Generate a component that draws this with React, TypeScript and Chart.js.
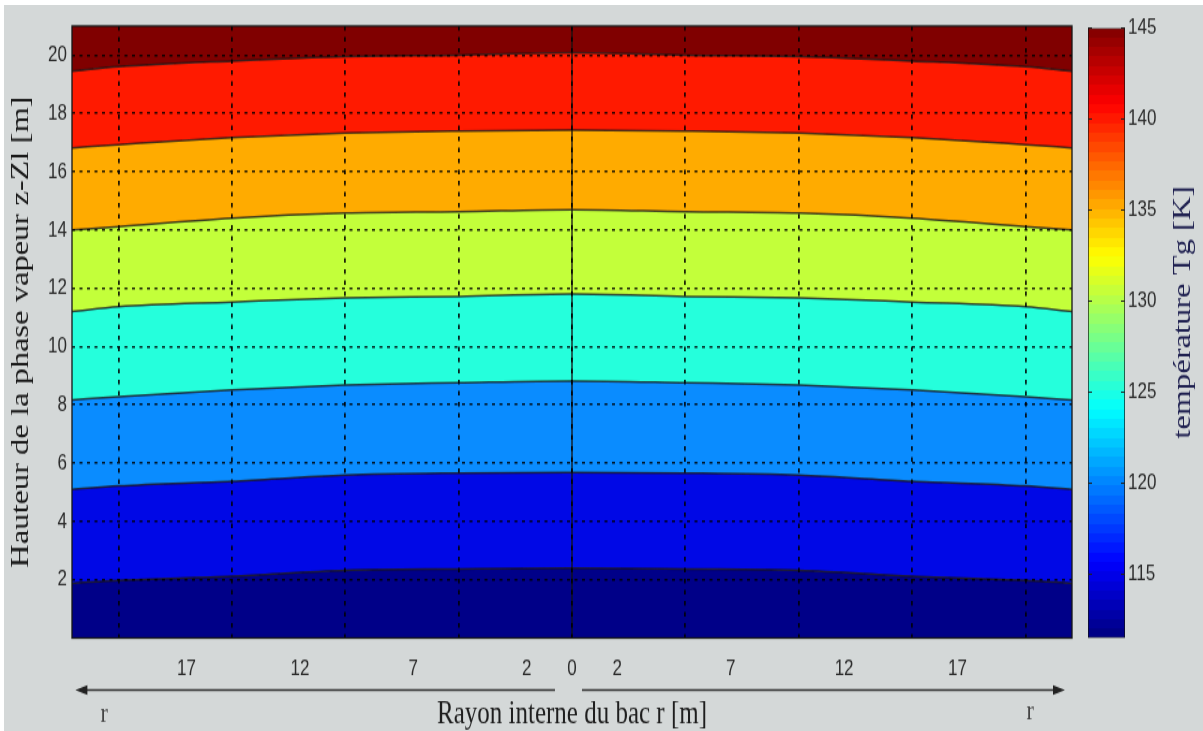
import React, { useEffect, useRef } from "react";
import { Chart, registerables } from "chart.js";

Chart.register(...registerables);

// Sampling radii (m) of the isotherm heights, from the tank axis out to the wall
const RADIUS = [0, 5, 10, 15, 20, 22.05];

// Heights z-Zl (m) of the seven isotherms separating the eight temperature bands,
// coldest boundary first, one value per radius above (the map is symmetric about r = 0)
const ISOTHERM_1 = [2.4, 2.37, 2.32, 2.12, 1.98, 1.88];
const ISOTHERM_2 = [5.68, 5.66, 5.59, 5.38, 5.22, 5.1];
const ISOTHERM_3 = [8.82, 8.76, 8.68, 8.51, 8.28, 8.17];
const ISOTHERM_4 = [11.8, 11.72, 11.67, 11.53, 11.37, 11.2];
const ISOTHERM_5 = [14.7, 14.63, 14.58, 14.41, 14.12, 14.0];
const ISOTHERM_6 = [17.43, 17.4, 17.33, 17.17, 16.93, 16.82];
const ISOTHERM_7 = [20.08, 20.0, 19.95, 19.8, 19.6, 19.45];
const ISOTHERMS = [ISOTHERM_1, ISOTHERM_2, ISOTHERM_3, ISOTHERM_4, ISOTHERM_5, ISOTHERM_6, ISOTHERM_7];

// Extent of the map: tank radius (m) and height of the vapour phase (m)
const RADIUS_MAX = 22.05;
const HEIGHT_MAX = 21;

// Fill of each temperature band, coldest (bottom) to warmest (top)
const BAND_COLORS = ["#000088", "#0008e6", "#0a8cff", "#25ffdc", "#c3ff3a", "#ffab00", "#ff1a00", "#800000"];

// Axis ticks
const HEIGHT_TICKS = [2, 4, 6, 8, 10, 12, 14, 16, 18, 20];
const RADIUS_GRID = [-20, -15, -10, -5, 0, 5, 10, 15, 20];
const RADIUS_LABELS = [-17, -12, -7, -2, 0, 2, 7, 12, 17];

// Colour scale of the gas temperature Tg (K)
const TEMP_MIN = 111.5;
const TEMP_MAX = 145;
const TEMP_TICKS = [115, 120, 125, 130, 135, 140, 145];

// The figure is rendered at a reduced height and shown vertically stretched
const FIG_WIDTH = 1203;
const DRAW_HEIGHT = 562;
const SHOWN_HEIGHT = 731;

const SANS = "'Liberation Sans', Arial, sans-serif";
const SERIF = "'Liberation Serif', 'Times New Roman', serif";

Chart.defaults.font.family = SANS;

function mirrored(heights: number[]) {
  const pts: { x: number; y: number }[] = [];
  for (let i = RADIUS.length - 1; i > 0; i--) pts.push({ x: -RADIUS[i], y: heights[i] });
  for (let i = 0; i < RADIUS.length; i++) pts.push({ x: RADIUS[i], y: heights[i] });
  return pts;
}

// MATLAB-style jet colour map, t in [0, 1]
function jet(t: number) {
  const c = (v: number) => Math.round(255 * Math.min(1, Math.max(0, v)));
  return `rgb(${c(1.5 - Math.abs(4 * t - 3))},${c(1.5 - Math.abs(4 * t - 2))},${c(1.5 - Math.abs(4 * t - 1))})`;
}

const frameAndArrows = {
  id: "frameAndArrows",
  afterDraw(chart: any) {
    const { ctx, chartArea: a, scales } = chart;
    const xs = scales.x;
    ctx.save();
    ctx.strokeStyle = "#151515";
    ctx.lineWidth = 1.3;
    ctx.strokeRect(a.left, a.top, a.right - a.left, a.bottom - a.top);

    // radius direction arrows under the axis
    const y = a.bottom + 40;
    const arrow = (from: number, to: number) => {
      const x0 = xs.getPixelForValue(from);
      const x1 = xs.getPixelForValue(to);
      const dir = Math.sign(x1 - x0);
      ctx.strokeStyle = "#333";
      ctx.fillStyle = "#222";
      ctx.lineWidth = 1.6;
      ctx.beginPath();
      ctx.moveTo(x0, y);
      ctx.lineTo(x1 - dir * 8, y);
      ctx.stroke();
      ctx.beginPath();
      ctx.moveTo(x1, y);
      ctx.lineTo(x1 - dir * 12, y - 3.8);
      ctx.lineTo(x1 - dir * 12, y + 3.8);
      ctx.closePath();
      ctx.fill();
    };
    arrow(-0.75, -21.9);
    arrow(0.44, 21.74);

    ctx.fillStyle = "#444";
    ctx.font = `22px ${SERIF}`;
    ctx.textAlign = "center";
    ctx.textBaseline = "middle";
    ctx.fillText("r", xs.getPixelForValue(-20.63), a.bottom + 58.5);
    ctx.fillText("r", xs.getPixelForValue(20.2), a.bottom + 57);
    ctx.restore();
  },
};

const colorbarTitle = {
  id: "colorbarTitle",
  afterDraw(chart: any) {
    const { ctx } = chart;
    ctx.save();
    ctx.translate(123, 240);
    ctx.rotate(-Math.PI / 2);
    ctx.fillStyle = "#1f2050";
    ctx.font = `25px ${SERIF}`;
    ctx.textAlign = "center";
    ctx.textBaseline = "middle";
    ctx.fillText("température Tg [K]", 0, 0);
    ctx.restore();
  },
};

export default function App() {
  const mainRef = useRef<HTMLCanvasElement>(null);
  const barRef = useRef<HTMLCanvasElement>(null);

  useEffect(() => {
    if (!mainRef.current || !barRef.current) return;

    const tickFont = { family: SANS, size: 17 };
    const tickColor = "#2c2c2c";
    const gridColor = "rgba(0,0,0,0.85)";

    const bandDatasets: any[] = ISOTHERMS.map((h, i) => ({
      label: `isotherme ${i + 1}`,
      data: mirrored(h),
      backgroundColor: BAND_COLORS[i],
      borderColor: "rgba(25,20,20,0.8)",
      borderWidth: 1.5,
      fill: i === 0 ? "origin" : "-1",
      pointRadius: 0,
      cubicInterpolationMode: "monotone",
    }));
    bandDatasets.push({
      label: "sommet",
      data: mirrored(RADIUS.map(() => HEIGHT_MAX)),
      backgroundColor: BAND_COLORS[7],
      borderColor: "transparent",
      borderWidth: 0,
      fill: "-1",
      pointRadius: 0,
    });
    bandDatasets.push({
      label: "axe",
      data: [
        { x: 0, y: 0 },
        { x: 0, y: HEIGHT_MAX },
      ],
      borderColor: "#111",
      borderWidth: 1.3,
      fill: false,
      pointRadius: 0,
      tension: 0,
    });

    const main = new Chart(mainRef.current, {
      type: "line",
      data: { datasets: bandDatasets },
      plugins: [frameAndArrows],
      options: {
        responsive: false,
        animation: false,
        devicePixelRatio: 1,
        layout: { padding: { left: 0, right: 131, top: 20, bottom: 0 } },
        plugins: {
          legend: { display: false },
          tooltip: { enabled: false },
          filler: { drawTime: "beforeDatasetsDraw" },
        } as any,
        scales: {
          x: {
            type: "linear",
            position: "bottom",
            min: -RADIUS_MAX,
            max: RADIUS_MAX,
            afterBuildTicks: (s: any) => {
              s.ticks = RADIUS_LABELS.map((v) => ({ value: v }));
            },
            afterFit: (s: any) => {
              s.height = 71.5;
            },
            ticks: {
              font: tickFont,
              color: tickColor,
              padding: 6,
              maxRotation: 0,
              autoSkip: false,
              callback: (v: any) => String(Math.abs(Number(v))),
            },
            grid: { display: false },
            border: { display: false },
            title: {
              display: true,
              text: "Rayon interne du bac r [m]",
              color: "#1e1e1e",
              font: { family: SERIF, size: 25, lineHeight: 1 },
              padding: { top: 0, bottom: 0 },
            },
          },
          xg: {
            type: "linear",
            position: "top",
            min: -RADIUS_MAX,
            max: RADIUS_MAX,
            afterBuildTicks: (s: any) => {
              s.ticks = RADIUS_GRID.map((v) => ({ value: v }));
            },
            afterFit: (s: any) => {
              s.height = 0;
            },
            ticks: { display: false },
            grid: { color: gridColor, lineWidth: 1.8, drawTicks: false, z: 1 } as any,
            border: { display: false, dash: [3.5, 5] },
          },
          y: {
            type: "linear",
            position: "left",
            min: 0,
            max: HEIGHT_MAX,
            afterBuildTicks: (s: any) => {
              s.ticks = HEIGHT_TICKS.map((v) => ({ value: v }));
            },
            afterFit: (s: any) => {
              s.width = 72;
            },
            ticks: { font: tickFont, color: tickColor, padding: 5 },
            grid: { color: gridColor, lineWidth: 1.6, drawTicks: false, z: 1 } as any,
            border: { display: false, dash: [3, 4.5] },
            title: {
              display: true,
              text: "Hauteur de la phase vapeur z-Zl [m]",
              color: "#1a1a1a",
              font: { family: SERIF, size: 25, lineHeight: 1.2 },
              padding: { top: 6, bottom: 0 },
            },
          },
        } as any,
      },
    });

    const colorbar = new Chart(barRef.current, {
      type: "bar",
      data: {
        labels: ["Tg"],
        datasets: [
          {
            label: "Tg",
            data: [[TEMP_MIN, TEMP_MAX]] as any,
            backgroundColor: (c: any) => {
              const chart = c.chart;
              const ys = chart.scales.y;
              if (!chart.chartArea || !ys) return "#000";
              const g = chart.ctx.createLinearGradient(0, ys.getPixelForValue(TEMP_MIN), 0, ys.getPixelForValue(TEMP_MAX));
              const steps = 64;
              for (let i = 0; i < steps; i++) {
                const col = jet((i + 0.5) / steps);
                g.addColorStop(i / steps, col);
                g.addColorStop((i + 1) / steps, col);
              }
              return g;
            },
            borderColor: "#111",
            borderWidth: 1,
            borderSkipped: false,
            barPercentage: 1,
            categoryPercentage: 1,
          },
        ],
      },
      plugins: [colorbarTitle],
      options: {
        responsive: false,
        animation: false,
        devicePixelRatio: 1,
        layout: { padding: { left: 28, right: 0, top: 21.5, bottom: 71.5 } },
        plugins: { legend: { display: false }, tooltip: { enabled: false } },
        scales: {
          x: { display: false },
          y: {
            type: "linear",
            position: "right",
            min: TEMP_MIN,
            max: TEMP_MAX,
            afterBuildTicks: (s: any) => {
              s.ticks = TEMP_TICKS.map((v) => ({ value: v }));
            },
            afterFit: (s: any) => {
              s.width = 78;
            },
            ticks: { font: { family: SANS, size: 17 }, color: tickColor, padding: 3 },
            grid: { color: "#222", lineWidth: 1, drawTicks: false, z: 1 } as any,
            border: { display: false, dash: [4, 29] },
          },
        } as any,
      },
    });

    return () => {
      main.destroy();
      colorbar.destroy();
    };
  }, []);

  return (
    <div
      style={{
        position: "fixed",
        left: 0,
        top: 0,
        width: FIG_WIDTH,
        height: SHOWN_HEIGHT,
        background: "#ffffff",
        overflow: "hidden",
      }}
    >
      <div style={{ position: "absolute", left: 4, top: 5, right: 0, bottom: 0, background: "#d4d8d8" }} />
      <canvas
        ref={mainRef}
        width={FIG_WIDTH}
        height={DRAW_HEIGHT}
        style={{ position: "absolute", left: 0, top: 0, width: `${FIG_WIDTH}px`, height: `${SHOWN_HEIGHT}px` }}
      />
      <canvas
        ref={barRef}
        width={143}
        height={DRAW_HEIGHT}
        style={{ position: "absolute", left: 1060, top: 0, width: "143px", height: `${SHOWN_HEIGHT}px` }}
      />
    </div>
  );
}
